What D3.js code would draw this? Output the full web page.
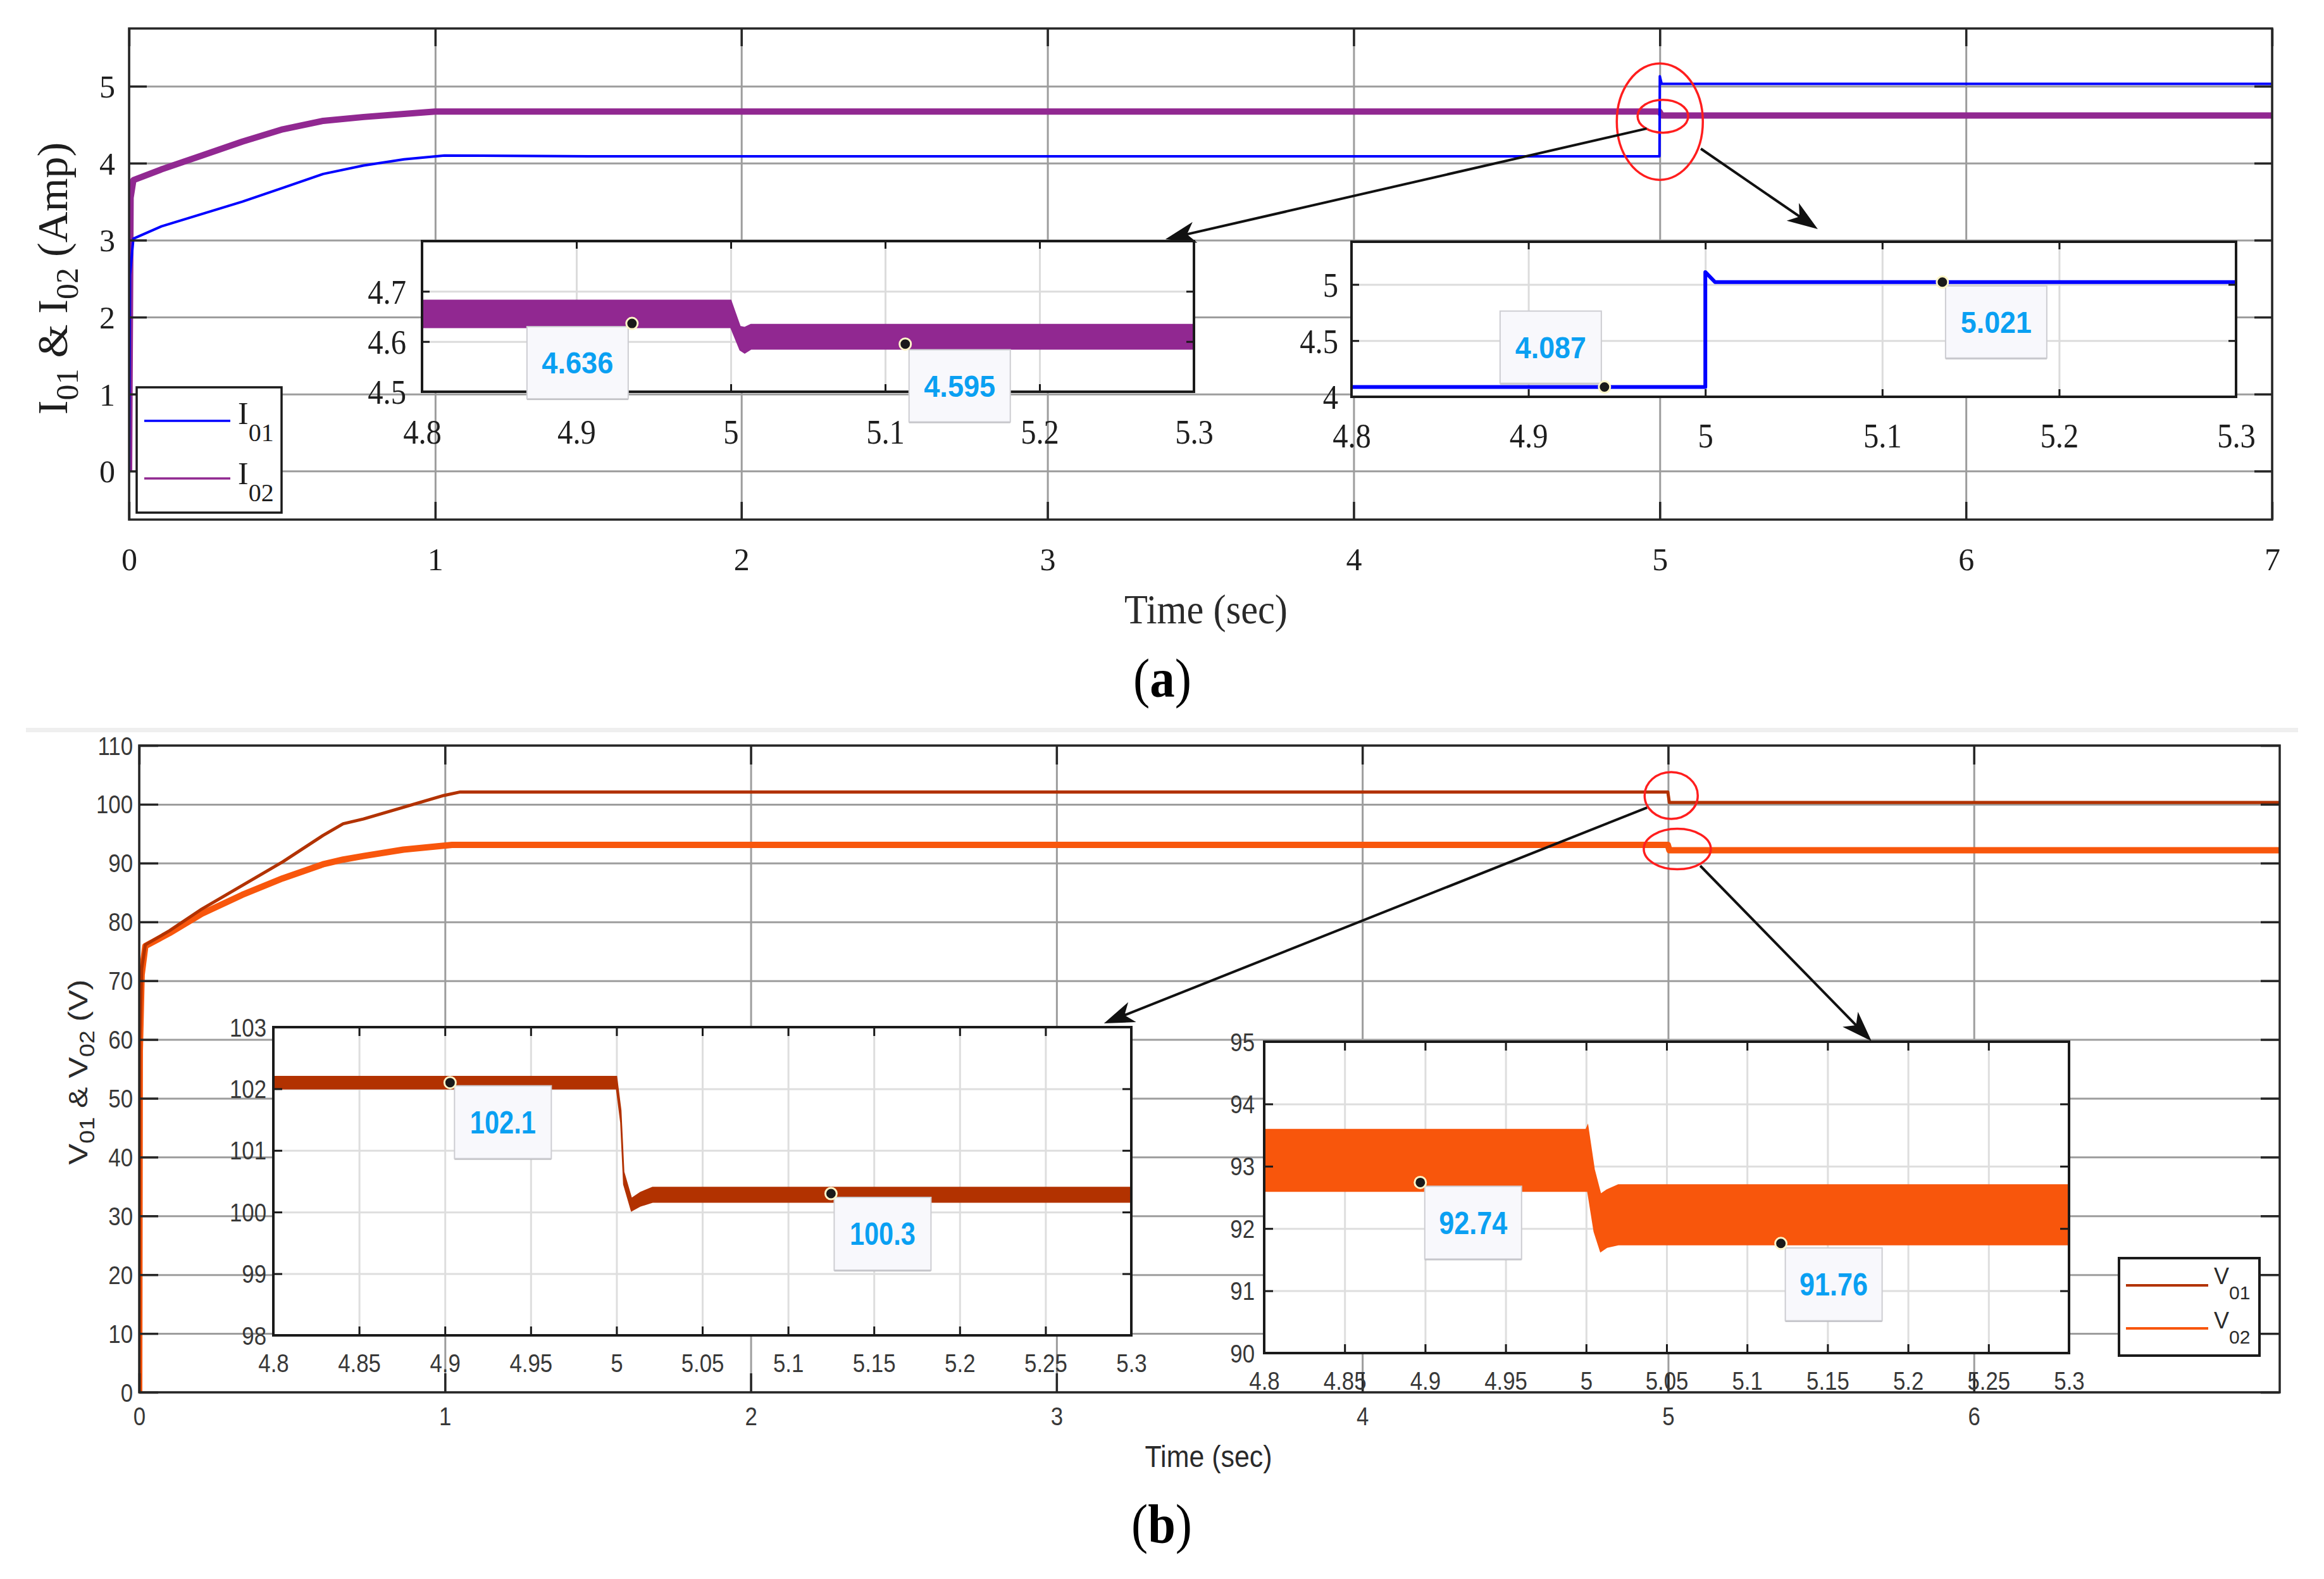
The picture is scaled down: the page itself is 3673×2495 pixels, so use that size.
<!DOCTYPE html>
<html><head><meta charset="utf-8">
<script src="https://cdn.jsdelivr.net/npm/d3@7/dist/d3.min.js"></script>
<style>html,body{margin:0;padding:0;background:#fff}svg{display:block}text{white-space:pre}</style>
</head><body>
<svg id="chart" width="3673" height="2495" xmlns="http://www.w3.org/2000/svg"></svg>
<script>
// ================= DATA =================
// --- panel (a): output currents ---
const xTicksA = [0, 1, 2, 3, 4, 5, 6, 7];
const yTicksA = [0, 1, 2, 3, 4, 5];
const zoomTicksA = [4.8, 4.9, 5.0, 5.1, 5.2, 5.3];
const yTicksI02z = [4.5, 4.6, 4.7];
const yTicksI01z = [4, 4.5, 5];

const tI01 = [0, 0.003, 0.014, 0.106, 0.238, 0.370, 0.502, 0.634, 0.766, 0.898, 1.03, 1.5, 2, 3, 4, 4.999, 5.0, 5.006, 6, 7];
const vI01 = [0, 2.55, 3.02, 3.18, 3.34, 3.50, 3.68, 3.86, 3.97, 4.05, 4.10, 4.09, 4.09, 4.09, 4.09, 4.09, 5.13, 5.03, 5.03, 5.03];
const tI02 = [0, 0.005, 0.014, 0.106, 0.238, 0.370, 0.502, 0.634, 0.766, 0.898, 1.0, 1.5, 2, 3, 4, 4.999, 5.006, 6, 7];
const vI02 = [0, 3.55, 3.78, 3.92, 4.10, 4.28, 4.44, 4.55, 4.60, 4.64, 4.67, 4.67, 4.67, 4.67, 4.67, 4.67, 4.62, 4.62, 4.62];

// zoom of I02 (ripple band)
const tI02z  = [4.8, 5.0, 5.006, 5.009, 5.013, 5.3];
const loI02z = [4.628, 4.628, 4.583, 4.577, 4.585, 4.585];
const hiI02z = [4.682, 4.682, 4.630, 4.628, 4.634, 4.634];
// zoom of I01
const tI01z = [4.8, 5.0, 5.0, 5.0055, 5.3];
const vI01z = [4.087, 4.087, 5.11, 5.021, 5.021];

// data tips (a)
const tipI02T = [4.936, 5.113], tipI02V = [4.636, 4.595], tipI02L = ["4.636", "4.595"];
const tipI01T = [4.943, 5.134], tipI01V = [4.087, 5.021], tipI01L = ["4.087", "5.021"];

// --- panel (b): output voltages ---
const xTicksB = [0, 1, 2, 3, 4, 5, 6];
const yTicksB = [0, 10, 20, 30, 40, 50, 60, 70, 80, 90, 100, 110];
const zoomTicksB = [4.8, 4.85, 4.9, 4.95, 5.0, 5.05, 5.1, 5.15, 5.2, 5.25, 5.3];
const yTicksV01z = [98, 99, 100, 101, 102, 103];
const yTicksV02z = [90, 91, 92, 93, 94, 95];

const tV01 = [0, 0.002, 0.008, 0.02, 0.099, 0.205, 0.337, 0.469, 0.601, 0.667, 0.733, 0.864, 0.996, 1.05, 2, 3, 4, 4.999, 5.004, 6, 7];
const vV01 = [0, 60, 72, 76.1, 78.5, 82.2, 86.2, 90.2, 94.7, 96.7, 97.5, 99.5, 101.5, 102.1, 102.1, 102.1, 102.1, 102.1, 100.3, 100.3, 100.3];
const tV02 = [0, 0.002, 0.008, 0.02, 0.099, 0.205, 0.337, 0.469, 0.601, 0.667, 0.733, 0.864, 1.023, 2, 3, 4, 4.999, 5.004, 6, 7];
const vV02 = [0, 58, 71, 75.9, 78.1, 81.4, 84.6, 87.4, 89.8, 90.6, 91.2, 92.3, 93.1, 93.1, 93.1, 93.1, 93.1, 92.2, 92.2, 92.2];

const tV01z  = [4.8, 5.0, 5.0025, 5.0042, 5.0087, 5.014, 5.021, 5.3];
const loV01z = [102.0, 102.0, 101.45, 100.45, 100.02, 100.10, 100.16, 100.16];
const hiV01z = [102.2, 102.2, 101.65, 100.65, 100.22, 100.32, 100.40, 100.40];

const tV02z  = [4.8, 5.0, 5.001, 5.005, 5.009, 5.013, 5.02, 5.3];
const loV02z = [92.60, 92.60, 92.60, 91.95, 91.63, 91.70, 91.74, 91.74];
const hiV02z = [93.59, 93.59, 93.65, 92.95, 92.55, 92.62, 92.70, 92.70];

const tipV01T = [4.903, 5.125], tipV01V = [102.1, 100.3], tipV01L = ["102.1", "100.3"];
const tipV02T = [4.897, 5.121], tipV02V = [92.74, 91.76], tipV02L = ["92.74", "91.76"];

// ================= STYLE / LAYOUT =================
const SERIF = "'Liberation Serif','Times New Roman',serif";
const SANS = "'Liberation Sans',Arial,Helvetica,sans-serif";
const C_I01 = "#0000ff", C_I02 = "#912891", C_V01 = "#b23200", C_V02 = "#f8560c";
const TIPC = "#0aa0f2";

const svg = d3.select('#chart');
svg.append('rect').attr('width', 3673).attr('height', 2495).attr('fill', '#fff');

const fmt = d => String(+d.toFixed(2));

function squeeze(sel, k) {
  sel.each(function () {
    const w = this.getComputedTextLength();
    d3.select(this).attr('textLength', w * k).attr('lengthAdjust', 'spacingAndGlyphs');
  });
}

let clipN = 0;
function axes(o) {
  const x = d3.scaleLinear().domain(o.xd).range([o.x0, o.x1]);
  const y = d3.scaleLinear().domain(o.yd).range([o.y1, o.y0]);
  const g = svg.append('g');
  const w = o.x1 - o.x0, h = o.y1 - o.y0;
  g.append('rect').attr('x', o.x0).attr('y', o.y0).attr('width', w).attr('height', h).attr('fill', '#fff');
  const gx = g.append('g').attr('transform', `translate(0,${o.y1})`)
    .call(d3.axisBottom(x).tickValues(o.xticks).tickSize(-h).tickFormat(''));
  const gy = g.append('g').attr('transform', `translate(${o.x0},0)`)
    .call(d3.axisLeft(y).tickValues(o.yticks).tickSize(-w).tickFormat(''));
  [gx, gy].forEach(a => { a.select('.domain').remove(); a.selectAll('line').attr('stroke', o.gridColor).attr('stroke-width', o.gridW); });
  const id = 'clip' + (clipN++);
  g.append('clipPath').attr('id', id).append('rect')
    .attr('x', o.x0).attr('y', o.y0).attr('width', w).attr('height', h);
  const data = g.append('g').attr('clip-path', `url(#${id})`);
  function finish() {
    const tl = o.tickLen;
    const b = g.append('g').attr('transform', `translate(0,${o.y1})`)
      .call(d3.axisBottom(x).tickValues(o.xticks).tickSize(-tl).tickPadding(0).tickFormat(fmt));
    const t = g.append('g').attr('transform', `translate(0,${o.y0})`)
      .call(d3.axisTop(x).tickValues(o.xticks).tickSize(-tl).tickFormat(''));
    const l = g.append('g').attr('transform', `translate(${o.x0},0)`)
      .call(d3.axisLeft(y).tickValues(o.yticks).tickSize(-tl).tickPadding(0).tickFormat(fmt));
    const r = g.append('g').attr('transform', `translate(${o.x1},0)`)
      .call(d3.axisRight(y).tickValues(o.yticks).tickSize(-tl).tickFormat(''));
    [b, t, l, r].forEach(a => { a.select('.domain').remove(); a.selectAll('line').attr('stroke', o.frameColor).attr('stroke-width', o.tickW); });
    [b, l].forEach(a => a.attr('font-family', o.font).attr('font-size', o.fontSize));
    b.selectAll('text').attr('y', o.xlabOff).attr('dy', '0.35em').attr('fill', o.textColor);
    l.selectAll('text').attr('x', o.ylabOff).attr('dy', '0.35em').attr('fill', o.textColor);
    if (o.squeeze) { squeeze(b.selectAll('text'), o.squeeze); squeeze(l.selectAll('text'), o.squeeze); }
    g.append('rect').attr('x', o.x0).attr('y', o.y0).attr('width', w).attr('height', h)
      .attr('fill', 'none').attr('stroke', o.frameColor).attr('stroke-width', o.frameW);
  }
  return { x, y, g, data, finish };
}

function drawLine(ax, T, V, color, width) {
  ax.data.append('path')
    .attr('d', d3.line().x(i => ax.x(T[i])).y(i => ax.y(V[i]))(d3.range(T.length)))
    .attr('fill', 'none').attr('stroke', color).attr('stroke-width', width)
    .attr('stroke-linejoin', 'round');
}
function drawBand(ax, T, LO, HI, color) {
  ax.data.append('path')
    .attr('d', d3.area().x(i => ax.x(T[i])).y0(i => ax.y(LO[i])).y1(i => ax.y(HI[i]))(d3.range(T.length)))
    .attr('fill', color).attr('stroke', color).attr('stroke-width', 2);
}
function tips(ax, T, V, L, offs, w, h, fs, tlen) {
  const layer = ax.g.append('g');
  T.forEach((t, i) => {
    const mx = ax.x(t), my = ax.y(V[i]);
    const bx = mx + offs[i][0], by = my + offs[i][1];
    layer.append('rect').attr('x', bx).attr('y', by + h - 4).attr('width', w).attr('height', 6).attr('fill', '#b8b8bc');
    layer.append('rect').attr('x', bx).attr('y', by).attr('width', w).attr('height', h)
      .attr('fill', '#f8f8fc').attr('stroke', '#cdcdd2').attr('stroke-width', 2);
    layer.append('text').attr('x', bx + w / 2).attr('y', by + h / 2).attr('dy', '0.36em')
      .attr('text-anchor', 'middle').attr('font-family', SANS).attr('font-weight', 'bold')
      .attr('font-size', fs).attr('fill', TIPC).attr('textLength', tlen).attr('lengthAdjust', 'spacingAndGlyphs')
      .text(L[i]);
    layer.append('circle').attr('cx', mx).attr('cy', my).attr('r', 9)
      .attr('fill', '#1a1a1a').attr('stroke', '#fff6c8').attr('stroke-width', 3);
  });
}
function subLabel(parent, parts, o) {
  const t = parent.append('text').attr('font-family', o.font).attr('font-size', o.size)
    .attr('fill', o.color).attr('text-anchor', o.anchor || 'start');
  if (o.transform) t.attr('transform', o.transform); else t.attr('x', o.x).attr('y', o.y);
  let shifted = 0;
  parts.forEach(([s, sub]) => {
    const ts = t.append('tspan').text(s);
    if (sub) { ts.attr('font-size', o.subSize).attr('dy', o.subShift - shifted); shifted = o.subShift; }
    else { if (shifted) ts.attr('dy', -shifted); shifted = 0; }
  });
  return t;
}
const annot = () => svg.append('g');
function arrow(layer, p0, p1) {
  const ang = Math.atan2(p1[1] - p0[1], p1[0] - p0[0]);
  const back = [p1[0] - 34 * Math.cos(ang), p1[1] - 34 * Math.sin(ang)];
  layer.append('line').attr('x1', p0[0]).attr('y1', p0[1]).attr('x2', back[0]).attr('y2', back[1])
    .attr('stroke', '#111').attr('stroke-width', 4);
  layer.append('path').attr('d', 'M0,0 L-48,-17 L-35,0 L-48,17 Z').attr('fill', '#111')
    .attr('transform', `translate(${p1[0]},${p1[1]}) rotate(${ang * 180 / Math.PI})`);
}

// ================= PANEL (a) =================
const A = axes({ x0: 204, x1: 3591, y0: 45, y1: 821, xd: [0, 7], yd: [-0.63, 5.75],
  xticks: xTicksA, yticks: yTicksA, gridColor: '#9d9d9d', gridW: 3, tickLen: 28, tickW: 3.5,
  frameColor: '#262626', frameW: 3.5, font: SERIF, fontSize: 50, textColor: '#1e1e1e', xlabOff: 62, ylabOff: -22 });
drawLine(A, tI02, vI02, C_I02, 10);
drawLine(A, tI01, vI01, C_I01, 4);
A.finish();

// axis titles (a)
subLabel(svg, [['I'], ['01', 1], [' & I'], ['02', 1], [' (Amp)']],
  { font: SERIF, size: 68, subSize: 50, subShift: 17, color: '#1e1e1e', anchor: 'middle', transform: 'translate(106,440) rotate(-90)' });
svg.append('text').attr('x', 1906).attr('y', 985).attr('text-anchor', 'middle')
  .attr('font-family', SERIF).attr('font-size', 66).attr('fill', '#2a2a2a')
  .attr('textLength', 258).attr('lengthAdjust', 'spacingAndGlyphs').text('Time (sec)');

// legend (a)
const legA = svg.append('g');
legA.append('rect').attr('x', 216).attr('y', 612).attr('width', 229).attr('height', 198)
  .attr('fill', '#fff').attr('stroke', '#1a1a1a').attr('stroke-width', 3.5);
[[C_I01, 665, 670, '01'], [C_I02, 756, 765, '02']].forEach(([c, ly, by, s]) => {
  legA.append('line').attr('x1', 228).attr('x2', 364).attr('y1', ly).attr('y2', ly).attr('stroke', c).attr('stroke-width', 3.5);
  subLabel(legA, [['I'], [s, 1]], { font: SERIF, size: 50, subSize: 40, subShift: 27, color: '#1e1e1e', x: 376, y: by });
});

// ellipses on main (a)
const annA = annot();
[[5.0, 4.54, 68, 92], [5.01, 4.61, 40, 26]].forEach(([t, v, rx, ry]) => {
  annA.append('ellipse').attr('cx', A.x(t)).attr('cy', A.y(v)).attr('rx', rx).attr('ry', ry)
    .attr('fill', 'none').attr('stroke', '#ff1e1e').attr('stroke-width', 3.5);
});

// inset 1 (I02 zoom)
const Z1 = axes({ x0: 667, x1: 1887, y0: 381, y1: 619, xd: [4.8, 5.3], yd: [4.5, 4.8],
  xticks: zoomTicksA, yticks: yTicksI02z, gridColor: '#dcdcdc', gridW: 3, tickLen: 12, tickW: 3,
  frameColor: '#1a1a1a', frameW: 4, font: SERIF, fontSize: 54, textColor: '#1e1e1e', xlabOff: 63, ylabOff: -25, squeeze: 0.9 });
drawBand(Z1, tI02z, loI02z, hiI02z, C_I02);
Z1.finish();
tips(Z1, tipI02T, tipI02V, tipI02L, [[-166, 5], [6, 9]], 160, 114, 48, 113);

// inset 2 (I01 zoom)
const Z2 = axes({ x0: 2136, x1: 3534, y0: 382, y1: 627, xd: [4.8, 5.3], yd: [4, 5.38],
  xticks: zoomTicksA, yticks: yTicksI01z, gridColor: '#dcdcdc', gridW: 3, tickLen: 12, tickW: 3,
  frameColor: '#1a1a1a', frameW: 4, font: SERIF, fontSize: 54, textColor: '#1e1e1e', xlabOff: 61, ylabOff: -21, squeeze: 0.9 });
drawLine(Z2, tI01z, vI01z, C_I01, 6);
Z2.finish();
tips(Z2, tipI01T, tipI01V, tipI01L, [[-165, -120], [5, 6]], 160, 114, 48, 112);

// arrows (a)
arrow(annA, [A.x(4.957), A.y(4.45)], [A.x(3.385), A.y(3.012)]);
arrow(annA, [A.x(5.134), A.y(4.188)], [A.x(5.516), A.y(3.144)]);

// caption (a)
svg.append('text').attr('x', 1837).attr('y', 1101).attr('text-anchor', 'middle')
  .attr('font-family', SERIF).attr('font-size', 86).attr('fill', '#000')
  .attr('textLength', 92).attr('lengthAdjust', 'spacingAndGlyphs')
  .call(t => { t.append('tspan').text('('); t.append('tspan').attr('font-weight', 'bold').text('a'); t.append('tspan').text(')'); });

// separator
svg.append('rect').attr('x', 41).attr('y', 1150).attr('width', 3591).attr('height', 7).attr('fill', '#efefef');

// ================= PANEL (b) =================
const B = axes({ x0: 220, x1: 3603, y0: 1178, y1: 2200, xd: [0, 7], yd: [0, 110],
  xticks: xTicksB, yticks: yTicksB, gridColor: '#9d9d9d', gridW: 3, tickLen: 30, tickW: 3.5,
  frameColor: '#262626', frameW: 3.5, font: SANS, fontSize: 40, textColor: '#383838', xlabOff: 38, ylabOff: -10, squeeze: 0.87 });
drawLine(B, tV02, vV02, C_V02, 10);
drawLine(B, tV01, vV01, C_V01, 5);
B.finish();

subLabel(svg, [['V'], ['01', 1], [' & V'], ['02', 1], [' (V)']],
  { font: SANS, size: 50, subSize: 38, subShift: 13, color: '#2a2a2a', anchor: 'middle', transform: 'translate(138,1694) scale(0.86,1) rotate(-90)' });
svg.append('text').attr('x', 1910).attr('y', 2318).attr('text-anchor', 'middle')
  .attr('font-family', SANS).attr('font-size', 48).attr('fill', '#2a2a2a')
  .attr('textLength', 201).attr('lengthAdjust', 'spacingAndGlyphs').text('Time (sec)');

const annB = annot();
[[5.01, 101.5, 42, 37], [5.03, 92.4, 53, 32]].forEach(([t, v, rx, ry]) => {
  annB.append('ellipse').attr('cx', B.x(t)).attr('cy', B.y(v)).attr('rx', rx).attr('ry', ry)
    .attr('fill', 'none').attr('stroke', '#ff1e1e').attr('stroke-width', 3.5);
});

// inset 3 (V01 zoom)
const Z3 = axes({ x0: 432, x1: 1788, y0: 1623, y1: 2110, xd: [4.8, 5.3], yd: [98, 103],
  xticks: zoomTicksB, yticks: yTicksV01z, gridColor: '#dedede', gridW: 3, tickLen: 14, tickW: 3,
  frameColor: '#1a1a1a', frameW: 4, font: SANS, fontSize: 40, textColor: '#383838', xlabOff: 44, ylabOff: -11, squeeze: 0.87 });
drawBand(Z3, tV01z, loV01z, hiV01z, C_V01);
Z3.finish();
tips(Z3, tipV01T, tipV01V, tipV01L, [[7, 5], [5, 6]], 153, 115, 50, 104);

// inset 4 (V02 zoom)
const Z4 = axes({ x0: 1998, x1: 3270, y0: 1646, y1: 2138, xd: [4.8, 5.3], yd: [90, 95],
  xticks: zoomTicksB, yticks: yTicksV02z, gridColor: '#dedede', gridW: 3, tickLen: 14, tickW: 3,
  frameColor: '#1a1a1a', frameW: 4, font: SANS, fontSize: 40, textColor: '#383838', xlabOff: 44, ylabOff: -15, squeeze: 0.87 });
drawBand(Z4, tV02z, loV02z, hiV02z, C_V02);
Z4.finish();
tips(Z4, tipV02T, tipV02V, tipV02L, [[7, 6], [7, 7]], 153, 115, 50, 108);

// legend (b)
const legB = svg.append('g');
legB.append('rect').attr('x', 3349).attr('y', 1988).attr('width', 222).attr('height', 154)
  .attr('fill', '#fff').attr('stroke', '#1a1a1a').attr('stroke-width', 4);
[[C_V01, 2031, 2029, '01'], [C_V02, 2099, 2099, '02']].forEach(([c, ly, by, s]) => {
  legB.append('line').attr('x1', 3360).attr('x2', 3490).attr('y1', ly).attr('y2', ly).attr('stroke', c).attr('stroke-width', 4);
  subLabel(legB, [['V'], [s, 1]], { font: SANS, size: 36, subSize: 30, subShift: 24, color: '#2a2a2a', x: 3499, y: by });
});

// arrows (b)
arrow(annB, [B.x(4.931), B.y(99.45)], [B.x(3.155), B.y(62.75)]);
arrow(annB, [B.x(5.105), B.y(89.55)], [B.x(5.665), B.y(59.74)]);

// caption (b)
svg.append('text').attr('x', 1836).attr('y', 2437).attr('text-anchor', 'middle')
  .attr('font-family', SERIF).attr('font-size', 86).attr('fill', '#000')
  .attr('textLength', 96).attr('lengthAdjust', 'spacingAndGlyphs')
  .call(t => { t.append('tspan').text('('); t.append('tspan').attr('font-weight', 'bold').text('b'); t.append('tspan').text(')'); });
</script>
</body></html>
